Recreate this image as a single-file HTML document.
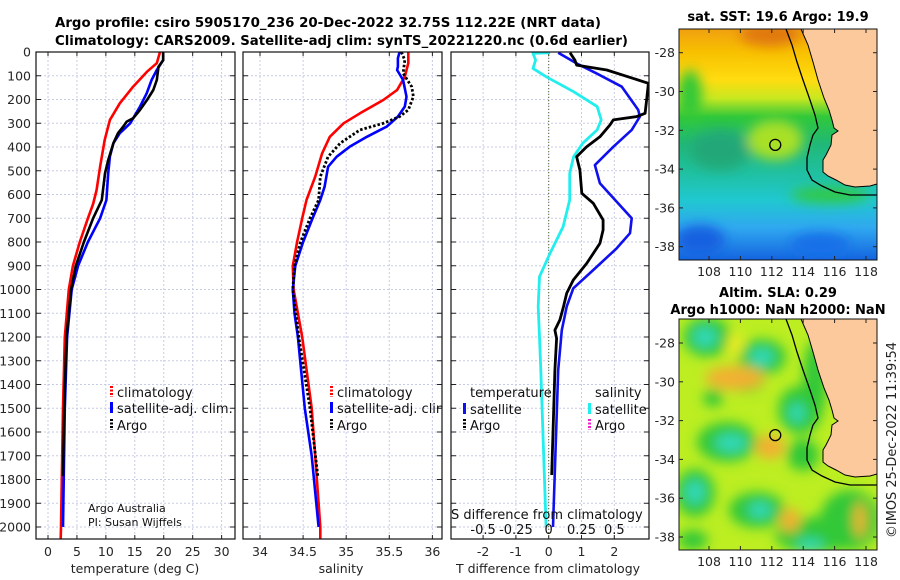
<!DOCTYPE html>
<html><head><meta charset="utf-8">
<style>
html,body{margin:0;padding:0;background:#fff;}
svg{display:block;font-family:"DejaVu Sans","Liberation Sans",sans-serif;}
</style></head>
<body>
<svg id="fig" width="900" height="580" viewBox="0 0 900 580" xmlns="http://www.w3.org/2000/svg">
<defs>
 <clipPath id="c1"><rect x="36" y="52" width="199" height="487"/></clipPath>
 <clipPath id="c2"><rect x="243" y="52" width="199" height="487"/></clipPath>
 <clipPath id="c3"><rect x="451" y="52" width="198" height="487"/></clipPath>
 <clipPath id="cm1"><rect x="679" y="29" width="198" height="231"/></clipPath>
 <clipPath id="cm2"><rect x="679" y="319" width="198" height="231"/></clipPath>
 <filter id="blur" x="-50%" y="-50%" width="200%" height="200%"><feGaussianBlur stdDeviation="6"/></filter>
 <filter id="blur2" x="-50%" y="-50%" width="200%" height="200%"><feGaussianBlur stdDeviation="4"/></filter>
 <linearGradient id="sstg" x1="0" y1="0" x2="0" y2="1">
  <stop offset="0" stop-color="#f0a010"/><stop offset="0.1" stop-color="#f8c000"/>
  <stop offset="0.22" stop-color="#ffdc10"/><stop offset="0.3" stop-color="#c8e820"/>
  <stop offset="0.38" stop-color="#30c83a"/><stop offset="0.5" stop-color="#20b878"/>
  <stop offset="0.62" stop-color="#20c0a0"/><stop offset="0.74" stop-color="#20c8d0"/>
  <stop offset="0.86" stop-color="#30a8f0"/><stop offset="1" stop-color="#1464e0"/>
 </linearGradient>
</defs>
<g id="layer"></g>
</svg>
<script>
// ---- profile data (depth in dbar) ----
const climTDepth = [0,47,83,146,216,286,370,483,581,640,700,800,900,1000,1200,1500,2000,2050];
const climTVal   = [19.35,18.8,17.1,14.7,12.4,10.7,9.8,9.0,8.4,7.8,6.9,5.5,4.3,3.6,2.9,2.6,2.25,2.2];
const satTDepth  = [0,34,76,118,174,230,300,342,384,440,511,623,700,800,900,1000,1200,1500,2000];
const satTVal    = [19.9,19.9,18.8,17.9,17.05,15.9,14.2,12.4,11.3,10.7,10.4,10.1,9.0,6.9,5.2,4.1,3.3,2.9,2.6];
const argoTDepth = [0,34,62,118,160,202,244,279,293,314,342,384,455,511,623,700,800,900,1000,1200,1500,1785];
const argoTVal   = [19.9,19.9,19.1,18.8,18.2,17.1,15.9,14.7,13.6,13.0,12.1,11.3,10.4,9.85,9.3,7.8,6.2,4.8,4.0,3.2,2.8,2.6];

const climSDepth = [0,47,104,160,202,258,300,357,427,525,623,700,800,900,1000,1200,1500,1700,2000,2050];
const climSVal   = [35.72,35.72,35.68,35.59,35.43,35.16,34.97,34.81,34.72,34.64,34.54,34.49,34.43,34.38,34.39,34.49,34.6,34.64,34.7,34.7];
const satSDepth  = [0,26,62,76,118,188,230,272,314,357,399,441,483,567,623,700,800,900,1000,1100,1200,1500,1700,2000];
const satSVal    = [35.62,35.6,35.6,35.59,35.66,35.7,35.68,35.6,35.47,35.24,35.04,34.89,34.79,34.75,34.7,34.61,34.5,34.41,34.38,34.4,34.44,34.52,34.6,34.68];
const argoSDepth = [0,34,90,146,188,244,272,300,328,384,441,525,623,700,800,900,1000,1200,1500,1785];
const argoSVal   = [35.64,35.68,35.66,35.76,35.78,35.72,35.62,35.43,35.16,34.93,34.79,34.7,34.68,34.58,34.47,34.4,34.38,34.45,34.58,34.67];

const dTSatDepth  = [3,48,90,146,244,272,328,399,476,553,700,763,827,918,995,1072,1171,1339,2000];
const dTSatVal    = [0.29,0.85,1.46,2.23,2.73,2.78,2.53,1.97,1.41,1.56,2.53,2.48,2.07,1.36,0.75,0.55,0.4,0.29,0.13];
const dTArgoDepth = [3,34,55,76,132,195,258,272,286,307,357,399,441,497,595,637,707,749,806,890,960,1016,1072,1128,1171,1206,1339,1781];
const dTArgoVal   = [0.65,0.8,0.85,1.77,3.04,2.99,2.94,2.68,1.97,1.87,1.56,1.16,0.85,0.95,1.01,1.36,1.66,1.66,1.56,1.16,0.75,0.55,0.45,0.34,0.19,0.24,0.19,0.09];
const dSSatDepth  = [3,6,34,69,104,167,230,286,328,384,441,511,623,736,848,946,1072,1199,1339,2000];
const dSSatVal    = [0.01,-0.12,-0.1,-0.12,-0.02,0.19,0.37,0.4,0.37,0.26,0.19,0.16,0.16,0.11,0.01,-0.07,-0.08,-0.07,-0.06,-0.02];

const depthTicks = [0,100,200,300,400,500,600,700,800,900,1000,1100,1200,1300,1400,1500,1600,1700,1800,1900,2000];
const tTicks = [0,5,10,15,20,25,30];
const sTicks = [34,34.5,35,35.5,36];
const sTickLabels = ["34","34.5","35","35.5","36"];
const dTTicks = [-2,-1,0,1,2];
const dSTicks = [-0.5,-0.25,0,0.25,0.5];
const dSTickLabels = ["-0.5","-0.25","0","0.25","0.5"];
const lonTicks = [108,110,112,114,116,118];
const latTicks = [-28,-30,-32,-34,-36,-38];
const argoLon = 112.22, argoLat = -32.75;

// ---- scales ----
const yD = d => 52 + d*0.2375;
const xT = t => 48 + t*5.787;
const xS = s => 260 + (s-34)*86.2;
const xDT = v => 548.7 + v*32.8;
const xDS = v => 548.7 + v*131.2;
const xLon = lo => 709 + (lo-108)*15.7;
const yLat1 = la => 52.7 + (-28-la)*19.4;
const yLat2 = la => 343 + (-28-la)*19.4;

const NS="http://www.w3.org/2000/svg";
const root=document.getElementById('layer');
function mk(tag,attrs,parent,txt){const e=document.createElementNS(NS,tag);for(const k in attrs)e.setAttribute(k,attrs[k]);if(txt!==undefined)e.textContent=txt;(parent||root).appendChild(e);return e;}
function pathFrom(xs,ds,xf){return ds.map((d,i)=>(i?'L':'M')+xf(xs[i]).toFixed(1)+','+yD(d).toFixed(1)).join(' ');}

const TICKC="#262626";
function panel(px,pw,name,ticks,xf,clip){
  const g=mk('g',{});
  
  
  const grid=mk('g',{},g);
  
  
  depthTicks.forEach(d=>{mk('line',{x1:px,x2:px+pw,y1:yD(d),y2:yD(d),stroke:'#c8cbe6','stroke-width':1,'stroke-dasharray':'2,2'},grid);});
  ticks.forEach(t=>{mk('line',{x1:xf(t),x2:xf(t),y1:52,y2:539,stroke:'#c8cbe6','stroke-width':1,'stroke-dasharray':'2,2'},grid);});
  depthTicks.forEach(d=>{mk('line',{x1:px,x2:px+5,y1:yD(d),y2:yD(d),stroke:'#222'},g);mk('line',{x1:px+pw-5,x2:px+pw,y1:yD(d),y2:yD(d),stroke:'#222'},g);});
  ticks.forEach(t=>{mk('line',{x1:xf(t),x2:xf(t),y1:539,y2:535,stroke:'#222'},g);mk('line',{x1:xf(t),x2:xf(t),y1:52,y2:56,stroke:'#222'},g);});
  const body=mk('g',{'clip-path':'url(#'+clip+')'},g);
  mk('rect',{x:px,y:52,width:pw,height:487,fill:'none',stroke:'#111','stroke-width':1.2},g);
  return body;
}
function line(parent,name,xs,ds,xf,color,w,dash){
  const p=mk('path',{d:pathFrom(xs,ds,xf),fill:'none',stroke:color,'stroke-width':w,'stroke-linejoin':'round'},parent);
  if(dash)p.setAttribute('stroke-dasharray',dash);
  
  
}
function txt(x,y,s,opts){const o=Object.assign({x:x,y:y,'font-size':12.5,fill:TICKC},opts||{});return mk('text',o,root,s);}

// Titles
let t1=txt(55,27,"Argo profile: csiro 5905170_236 20-Dec-2022 32.75S 112.22E (NRT data)",{'font-weight':'bold','font-size':13,fill:'#000',textLength:546,lengthAdjust:'spacingAndGlyphs'});

let t2=txt(55,45,"Climatology: CARS2009. Satellite-adj clim: synTS_20221220.nc (0.6d earlier)",{'font-weight':'bold','font-size':13,fill:'#000',textLength:573,lengthAdjust:'spacingAndGlyphs'});


// Panel 1: temperature
const b1=panel(36,199,'temperature-panel',tTicks,xT,'c1');
line(b1,'temp-climatology-line',climTVal,climTDepth,xT,'#ff0000',2.6);
line(b1,'temp-satellite-line',satTVal,satTDepth,xT,'#0000ff',2.6);
line(b1,'temp-argo-line',argoTVal,argoTDepth,xT,'#000',2.6);
depthTicks.forEach(d=>{const e=txt(31,yD(d)+4.5,String(d),{'text-anchor':'end'});});
tTicks.forEach(t=>{const e=txt(xT(t),556,String(t),{'text-anchor':'middle'});});
let xl1=txt(135,573,"temperature (deg C)",{'text-anchor':'middle',fill:'#222'});
function leg(parent,x,y,color,label,name,dash){
  const g=mk('g',{},parent);
  const r=mk('rect',{x:x,y:y-6,width:3,height:11,fill:color},g);
  if(dash){r.setAttribute('fill','none');mk('line',{x1:x+1.5,x2:x+1.5,y1:y-6,y2:y+5,stroke:color,'stroke-width':3,'stroke-dasharray':'2,1.5'},g);}
  mk('text',{x:x+7,y:y+5,'font-size':13,fill:'#111'},g,label);
}
leg(b1,110,392,'#ff0000','climatology','legend-climatology',true);
leg(b1,110,408,'#0000ff','satellite-adj. clim.','legend-satellite-adj');
leg(b1,110,425,'#000','Argo','legend-argo',true);
let ca=txt(88,512,"Argo Australia",{'font-size':11,fill:'#111'});
let cp=txt(88,526,"PI: Susan Wijffels",{'font-size':11,fill:'#111'});

// Panel 2: salinity
const b2=panel(243,199,'salinity-panel',sTicks,xS,'c2');
line(b2,'sal-climatology-line',climSVal,climSDepth,xS,'#ff0000',2.6);
line(b2,'sal-satellite-line',satSVal,satSDepth,xS,'#0000ff',2.6);
line(b2,'sal-argo-line',argoSVal,argoSDepth,xS,'#000',2.8,'2.5,2');
sTicks.forEach((t,i)=>{const e=txt(xS(t),556,sTickLabels[i],{'text-anchor':'middle'});});
let xl2=txt(341,573,"salinity",{'text-anchor':'middle',fill:'#222'});
leg(b2,330,392,'#ff0000','climatology','legend2-climatology',true);
leg(b2,330,408,'#0000ff','satellite-adj. clim.','legend2-satellite-adj');
leg(b2,330,425,'#000','Argo','legend2-argo',true);

// Panel 3: differences
const b3=panel(451,198,'difference-panel',dTTicks,xDT,'c3');
const zl=mk('line',{x1:548.7,x2:548.7,y1:52,y2:539,stroke:'#556b2f','stroke-width':1,'stroke-dasharray':'1,2'},b3);

line(b3,'sdiff-satellite-line',dSSatVal,dSSatDepth,xDS,'#22eeee',2.8);
line(b3,'tdiff-satellite-line',dTSatVal,dTSatDepth,xDT,'#1010ee',2.6);
line(b3,'tdiff-argo-line',dTArgoVal,dTArgoDepth,xDT,'#000',2.8);
mk('text',{x:470,y:397,'font-size':13,fill:'#111'},b3,'temperature');
mk('text',{x:595,y:397,'font-size':13,fill:'#111'},b3,'salinity');
leg(b3,463,409,'#1010ee','satellite','legend3-t-satellite');
leg(b3,463,425,'#000','Argo','legend3-t-argo',true);
leg(b3,588,409,'#22eeee','satellite','legend3-s-satellite');
leg(b3,588,425,'#ee22cc','Argo','legend3-s-argo',true);
let sdt=mk('text',{x:451,y:519,'font-size':13,fill:'#111'},b3,'S difference from climatology');

dSTicks.forEach((t,i)=>{const e=mk('text',{x:xDS(t),y:534,'font-size':13,fill:'#111','text-anchor':'middle'},b3,dSTickLabels[i]);});
dTTicks.forEach(t=>{const e=txt(xDT(t),556,String(t),{'text-anchor':'middle'});});
let xl3=txt(548,573,"T difference from climatology",{'text-anchor':'middle',fill:'#222'});

// ---- Maps ----
const landPts=[[801,29],[808,45],[813,62],[818,80],[824,98],[829,110],[832,120],[834,128],[838,131],[832,135],[831,145],[826,155],[823,160],[823,172],[828,176],[836,180],[845,185],[855,187],[870,186],[877,184],[877,29]];
const isoPts=[[786,29],[792,45],[797,62],[803,80],[810,100],[815,115],[818,128],[813,135],[810,145],[807,158],[807,170],[812,180],[822,186],[835,192],[850,195],[877,195]];
function ptsStr(p,dy){return p.map(q=>q[0]+','+(q[1]+dy)).join(' ');}
function drawMap(dy,name,clip,yLat,fillFn){
  const g=mk('g',{});
  const b=mk('g',{'clip-path':'url(#'+clip+')'},g);
  fillFn(b);
  const shelf=mk('polyline',{points:ptsStr(isoPts,dy),fill:'none',stroke:'#000','stroke-width':1.3},b);
  
  const land=mk('polygon',{points:ptsStr(landPts,dy),fill:'#fbc99b',stroke:'#000','stroke-width':1},b);
  
  const c=mk('circle',{cx:xLon(argoLon),cy:yLat(argoLat),r:5.5,fill:'none',stroke:'#000','stroke-width':1.3},b);
  
  mk('rect',{x:679,y:29+dy,width:198,height:231,fill:'none',stroke:'#111','stroke-width':1},g);
  latTicks.forEach(la=>{mk('line',{x1:679,x2:683,y1:yLat(la),y2:yLat(la),stroke:'#222'},g);mk('line',{x1:873,x2:877,y1:yLat(la),y2:yLat(la),stroke:'#222'},g);
    const e=mk('text',{x:675,y:yLat(la)+4.5,'font-size':12.5,fill:TICKC,'text-anchor':'end'},g,String(la));});
  lonTicks.forEach(lo=>{mk('line',{x1:xLon(lo),x2:xLon(lo),y1:260+dy,y2:256+dy,stroke:'#222'},g);mk('line',{x1:xLon(lo),x2:xLon(lo),y1:29+dy,y2:33+dy,stroke:'#222'},g);
    const e=mk('text',{x:xLon(lo),y:276+dy,'font-size':12.5,fill:TICKC,'text-anchor':'middle'},g,String(lo));});
}
drawMap(0,'sst-map','cm1',yLat1,b=>{
  mk('rect',{x:679,y:29,width:198,height:231,fill:'url(#sstg)'},b);
  const bl=mk('g',{filter:'url(#blur)'},b);
  mk('ellipse',{cx:770,cy:34,rx:30,ry:12,fill:'#e07810'},bl);
  mk('ellipse',{cx:690,cy:95,rx:12,ry:25,fill:'#30c838'},bl);
  mk('ellipse',{cx:775,cy:140,rx:28,ry:20,fill:'#a8e028'},bl);
  mk('ellipse',{cx:720,cy:150,rx:30,ry:20,fill:'#20a878'},bl);
  mk('ellipse',{cx:700,cy:240,rx:25,ry:15,fill:'#1860e0'},bl);
  mk('ellipse',{cx:820,cy:245,rx:30,ry:12,fill:'#1870e8'},bl);
  mk('ellipse',{cx:830,cy:195,rx:40,ry:8,fill:'#30c840'},bl);
});
drawMap(290,'sla-map','cm2',yLat2,b=>{
  mk('rect',{x:679,y:319,width:198,height:231,fill:'#bcee22'},b);
  const bl=mk('g',{filter:'url(#blur)'},b);
  const G='#30c838',T='#30d8b8',O='#f2b030',Y='#f0ee20';
  [[707,337,24,20,G],[762,357,24,18,G],[713,398,10,9,G],[800,410,22,24,G],[727,442,30,20,G],[803,455,16,16,G],[695,493,20,24,G],[757,510,28,18,G],[815,535,40,18,G],[693,540,15,10,G],[815,380,12,40,G],[850,520,30,30,G],[745,380,20,12,G]].forEach(e=>mk('ellipse',{cx:e[0],cy:e[1],rx:e[2],ry:e[3],fill:e[4]},bl));
  [[705,337,12,10,T],[762,357,12,9,T],[797,413,8,10,T],[731,443,16,9,T],[695,492,10,12,T],[760,510,12,8,T],[810,545,14,6,T]].forEach(e=>mk('ellipse',{cx:e[0],cy:e[1],rx:e[2],ry:e[3],fill:e[4]},bl));
  [[735,378,30,12,O],[770,447,15,12,O],[790,520,10,12,O],[860,520,6,18,O],[735,345,8,12,Y]].forEach(e=>mk('ellipse',{cx:e[0],cy:e[1],rx:e[2],ry:e[3],fill:e[4]},bl));
});
let mt1=txt(778,21,"sat. SST: 19.6 Argo: 19.9",{'font-weight':'bold','font-size':13,fill:'#000','text-anchor':'middle'});

let mt2=txt(778,297,"Altim. SLA: 0.29",{'font-weight':'bold','font-size':13,fill:'#000','text-anchor':'middle'});

let mt3=txt(778,314,"Argo h1000: NaN h2000: NaN",{'font-weight':'bold','font-size':13,fill:'#000','text-anchor':'middle'});

let cr=txt(0,0,"©IMOS 25-Dec-2022 11:39:54",{'font-size':13.5,fill:'#222','text-anchor':'middle',transform:'translate(896,440) rotate(-90)',textLength:196,lengthAdjust:'spacingAndGlyphs'});

</script>
</body></html>
